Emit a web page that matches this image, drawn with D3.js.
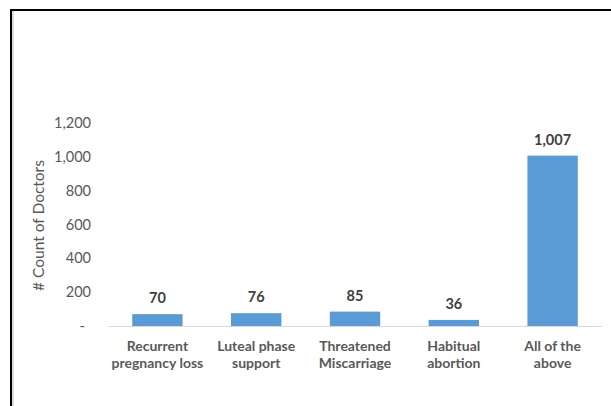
<!DOCTYPE html>
<html>
<head>
<meta charset="utf-8">
<script src="https://cdn.jsdelivr.net/npm/d3@7"></script>
<style>
  html, body { margin: 0; padding: 0; background: #fff; }
  svg { display: block; }
</style>
</head>
<body>
<svg id="chart" width="611" height="406"></svg>
<script>
const categories = [
  ["Recurrent", "pregnancy loss"],
  ["Luteal phase", "support"],
  ["Threatened", "Miscarriage"],
  ["Habitual", "abortion"],
  ["All of the", "above"]
];
const counts = [70, 76, 85, 36, 1007];
const yTicks = [0, 200, 400, 600, 800, 1000, 1200];
const yTitle = "# Count of Doctors";

const svg = d3.select("#chart");
const W = 611, H = 406;
const font = "Lato, 'Open Sans', sans-serif";

// Frame: top and left edges
svg.append("line").attr("x1", 10).attr("x2", 611).attr("y1", 10).attr("y2", 10)
  .attr("stroke", "#000").attr("stroke-width", 2);
svg.append("line").attr("x1", 11).attr("x2", 11).attr("y1", 9).attr("y2", H)
  .attr("stroke", "#000").attr("stroke-width", 2);
svg.append("line").attr("x1", 13).attr("x2", 13).attr("y1", 11).attr("y2", H)
  .attr("stroke", "#bbb").attr("stroke-width", 1);

const plot = { left: 108, right: 602, top: 123, bottom: 326 };

const x = d3.scaleBand()
  .domain(d3.range(categories.length))
  .range([plot.left, plot.right])
  .paddingInner(0.49)
  .paddingOuter(0.245);

const y = d3.scaleLinear().domain([0, 1200]).range([plot.bottom, plot.top]);

// Y axis labels (no line)
const yAxis = d3.axisLeft(y)
  .tickValues(yTicks)
  .tickSize(0)
  .tickPadding(0)
  .tickFormat(d => d === 0 ? "-" : d3.format(",")(d));

const yg = svg.append("g").attr("transform", `translate(91,0)`).call(yAxis);
yg.select(".domain").remove();
yg.selectAll("text")
  .attr("font-family", font).attr("font-size", 14.5).attr("fill", "#595959")
  .attr("dx", d => d === 0 ? -6 : 0);

// Bars
svg.append("g").selectAll("rect")
  .data(counts)
  .join("rect")
  .attr("x", (d, i) => x(i))
  .attr("width", x.bandwidth())
  .attr("y", d => y(d))
  .attr("height", d => y(0) - y(d))
  .attr("fill", "#5B9BD5");

// Category baseline
svg.append("line")
  .attr("x1", plot.left).attr("x2", plot.right)
  .attr("y1", y(0) + 0.5).attr("y2", y(0) + 0.5)
  .attr("stroke", "#d9d9d9").attr("stroke-width", 1);

// Value labels
svg.append("g").selectAll("text")
  .data(counts)
  .join("text")
  .attr("x", (d, i) => x(i) + x.bandwidth() / 2)
  .attr("y", d => y(d) - 11)
  .attr("text-anchor", "middle")
  .attr("font-family", font).attr("font-size", 14.5).attr("font-weight", "bold")
  .attr("fill", "#404040")
  .text(d => d3.format(",")(d));

// Category labels
const cat = svg.append("g").selectAll("text")
  .data(categories)
  .join("text")
  .attr("text-anchor", "middle")
  .attr("font-family", font).attr("font-size", 14).attr("font-weight", "bold")
  .attr("fill", "#595959")
  .attr("transform", (d, i) => `translate(${x(i) + x.bandwidth() / 2},351)`);
cat.selectAll("tspan")
  .data(d => d)
  .join("tspan")
  .attr("x", 0)
  .attr("dy", (d, j) => j === 0 ? 0 : 17)
  .text(d => d);

// Y axis title
svg.append("text")
  .attr("transform", `translate(44,${(plot.top + plot.bottom) / 2 + 1}) rotate(-90)`)
  .attr("text-anchor", "middle")
  .attr("font-family", font).attr("font-size", 15.5)
  .attr("fill", "#595959")
  .text(yTitle);
</script>
</body>
</html>
